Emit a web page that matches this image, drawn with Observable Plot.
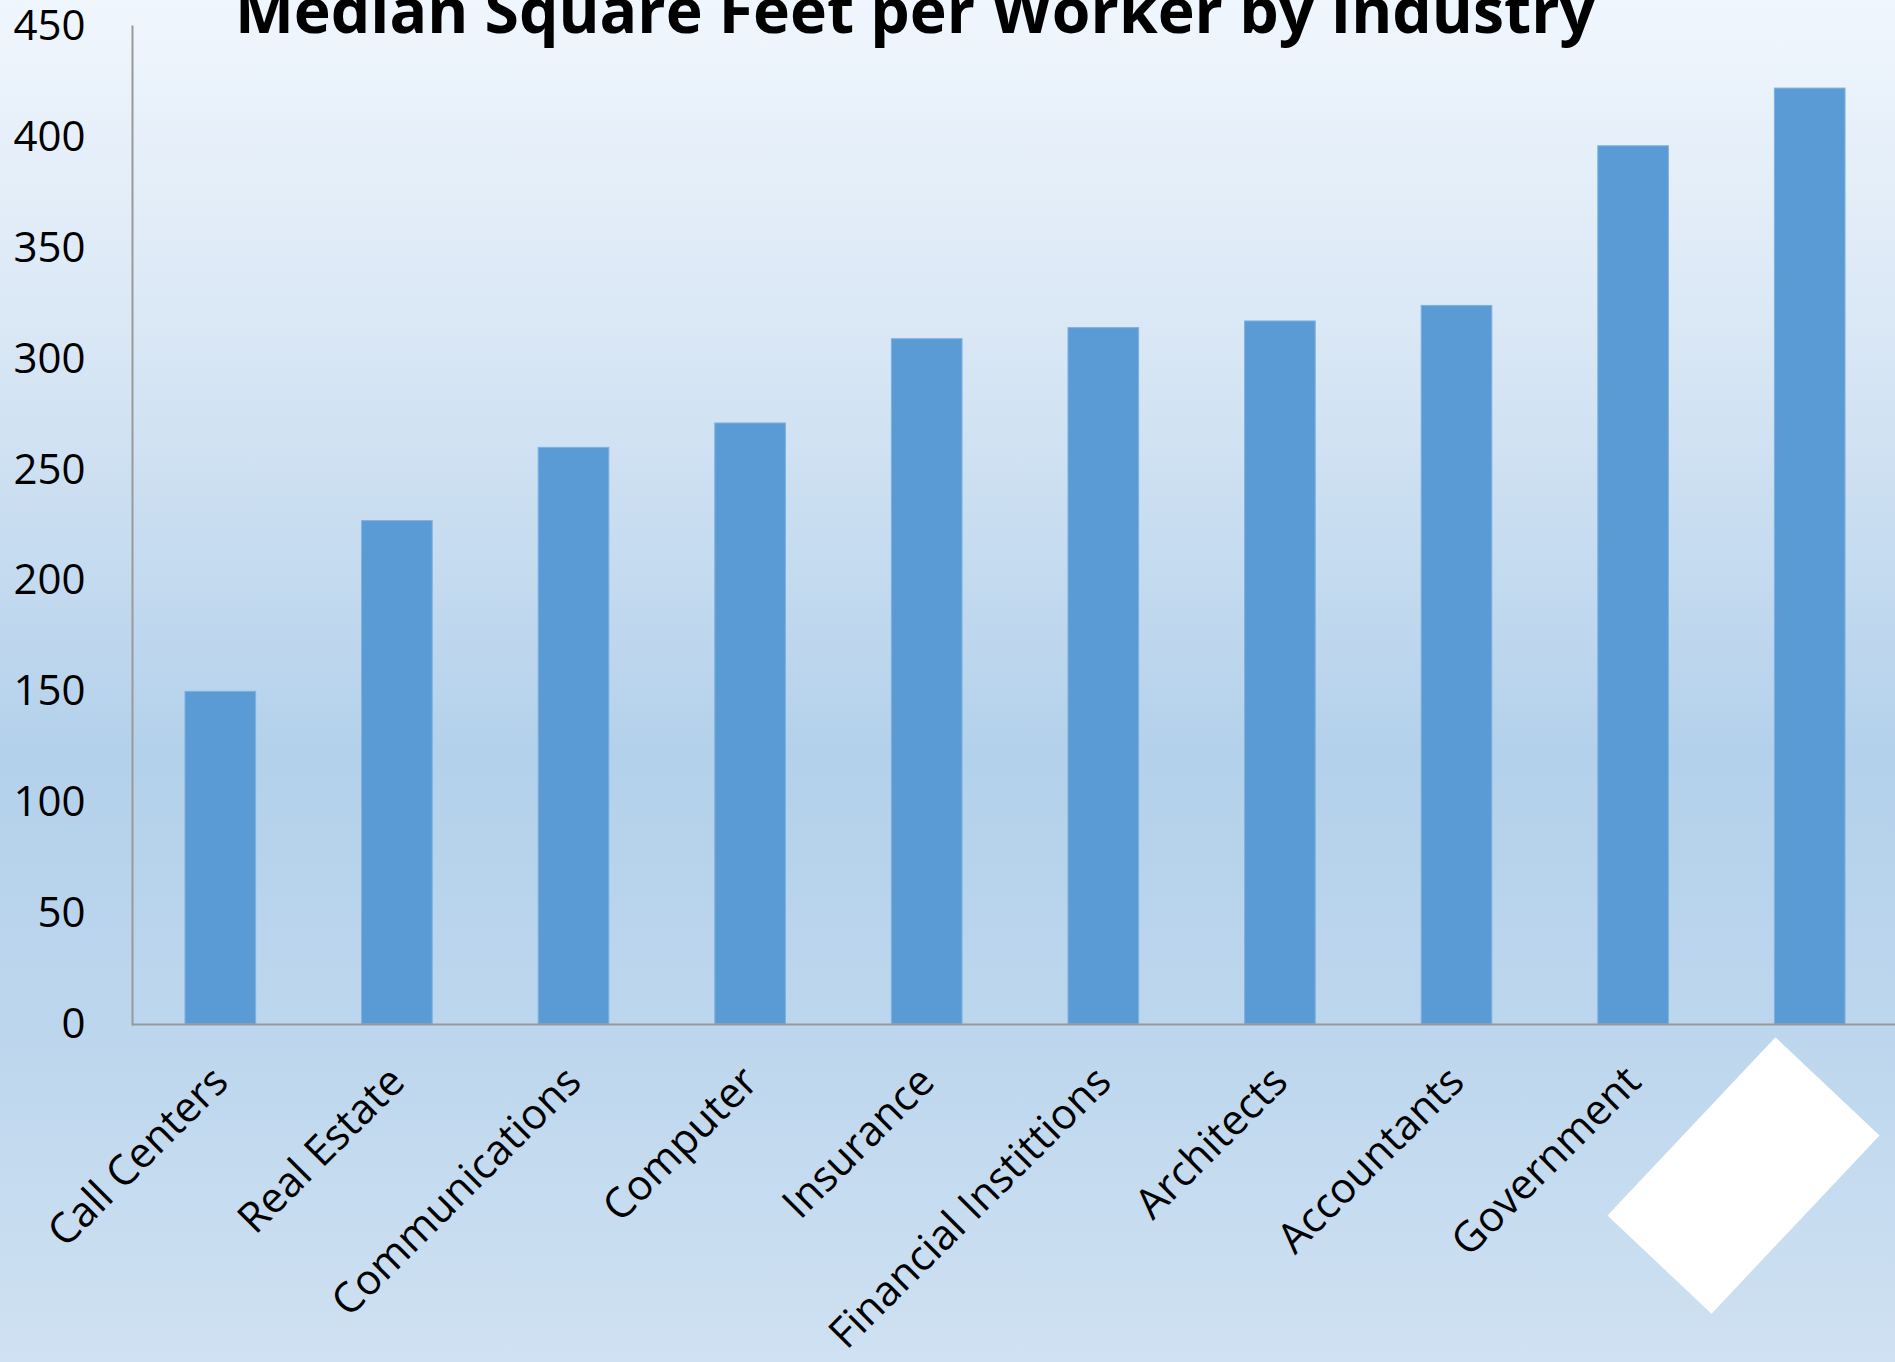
<!DOCTYPE html>
<html>
<head>
<meta charset="utf-8">
<script src="https://cdn.jsdelivr.net/npm/d3@7"></script>
<script src="https://cdn.jsdelivr.net/npm/@observablehq/plot@0.6"></script>
<style>
  html, body { margin: 0; padding: 0; overflow: hidden; }
  #wrap {
    position: relative; width: 1895px; height: 1362px; overflow: hidden;
    background: linear-gradient(to bottom, #f0f6fd 0%, #d9e7f5 25%, #b4d1eb 55%, #bcd6ed 75%, #cfe1f2 100%);
    font-family: "Open Sans", sans-serif;
  }
  #title {
    position: absolute; top: -22px; left: 915px; transform: translateX(-50%);
    font-family: "Open Sans", sans-serif; font-weight: bold; font-size: 62.5px;
    line-height: 62px; white-space: nowrap; color: #000;
  }
  #cover {
    position: absolute; left: 1672px; top: 1053px; width: 143px; height: 245px;
    background: #fff; transform: rotate(43.3deg);
  }
  svg { display: block; background: transparent; overflow: visible; }
</style>
</head>
<body>
<div id="wrap"></div>
<script>
// Categories (the last label is hidden under a white shape in the reference)
const categories = ["Call Centers", "Real Estate", "Communications", "Computer", "Insurance",
  "Financial Instittions", "Architects", "Accountants", "Government", "(obscured)"];
const values = [150, 227, 260, 271, 309, 314, 317, 324, 396, 422];
const yTicks = [0, 50, 100, 150, 200, 250, 300, 350, 400, 450];
const titleText = "Median Square Feet per Worker by Industry";

const data = categories.map((c, i) => ({category: c, value: values[i]}));

const chart = Plot.plot({
  width: 1895,
  height: 1362,
  marginLeft: 132,
  marginRight: -3,
  marginTop: 26,
  marginBottom: 338,
  style: {background: "transparent", fontFamily: "Open Sans, sans-serif", color: "#000"},
  x: {domain: categories, paddingInner: 0.6, paddingOuter: 0.3, round: false, label: null},
  y: {domain: [0, 450], label: null},
  marks: [
    Plot.barY(data, {x: "category", y: "value", fill: "#5b9bd5", stroke: "#7eb1df", strokeWidth: 1}),
    Plot.frame({anchor: "left", stroke: "#999", strokeWidth: 2}),
    Plot.ruleY([0], {stroke: "#999", strokeWidth: 2}),
    Plot.axisY({ticks: yTicks, tickSize: 0, tickPadding: 47, fontSize: 42, label: null, tickFormat: d => String(d)}),
    Plot.axisX({tickSize: 0, tickPadding: 50, tickRotate: -45, fontSize: 42, label: null,
      tickFormat: d => d === "(obscured)" ? "" : d})
  ]
});

const wrap = document.getElementById("wrap");
wrap.appendChild(chart);
const title = document.createElement("div");
title.id = "title";
title.textContent = titleText;
wrap.appendChild(title);
const cover = document.createElement("div");
cover.id = "cover";
wrap.appendChild(cover);
</script>
</body>
</html>
